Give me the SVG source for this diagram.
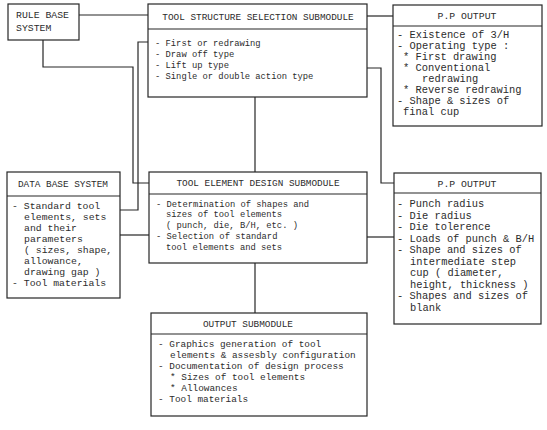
<svg xmlns="http://www.w3.org/2000/svg" width="547" height="430" viewBox="0 0 547 430">
  <style>
    .box { fill: #fff; stroke: #262626; stroke-width: 1.2; }
    .sep { stroke: #262626; stroke-width: 1.2; }
    .wire { fill: none; stroke: #262626; stroke-width: 1.2; }
    text { font-family: "Liberation Mono", "DejaVu Sans Mono", monospace; fill: #2c2c2c; }
    .hd { text-anchor: middle; }
    .s88 { font-size: 8.8px; }
    .s94 { font-size: 9.4px; }
    .s98 { font-size: 9.8px; }
    .s105 { font-size: 10.4px; }
  </style>
  <rect width="547" height="430" fill="#fff"/>

  <g id="connectors">
    <!-- rule base -> tool structure -->
    <polyline class="wire" points="79,15 148,15"/>
    <!-- rule base -> tool element design -->
    <polyline class="wire" points="43,40 43,67 133,67 133,183 149,183"/>
    <!-- tool structure <-> data base -->
    <polyline class="wire" points="148,42 138,42 138,210 120,210"/>
    <!-- data base -> tool element design -->
    <polyline class="wire" points="120,235 149,235"/>
    <!-- tool structure -> P.P output (top) -->
    <polyline class="wire" points="367,16 393,16"/>
    <!-- tool structure -> P.P output (lower) -->
    <polyline class="wire" points="367,68 381,68 381,183 394,183"/>
    <!-- tool structure -> tool element design -->
    <polyline class="wire" points="255,97 255,172"/>
    <!-- tool element design -> P.P output (lower) -->
    <polyline class="wire" points="367,237 394,237"/>
    <!-- tool element design -> output submodule -->
    <polyline class="wire" points="255,263 255,313"/>
  </g>

  <g id="rule-base">
    <rect class="box" x="8" y="4" width="71" height="36"/>
    <text class="s98" x="16" y="18">RULE BASE</text>
    <text class="s98" x="16" y="31">SYSTEM</text>
  </g>

  <g id="tool-structure">
    <rect class="box" x="148" y="4" width="219" height="93"/>
    <line class="sep" x1="148" y1="29" x2="367" y2="29"/>
    <text class="hd s94" x="258" y="20">TOOL STRUCTURE SELECTION SUBMODULE</text>
    <text class="s88" x="155" y="46">- First or redrawing</text>
    <text class="s88" x="155" y="57">- Draw off type</text>
    <text class="s88" x="155" y="68">- Lift up type</text>
    <text class="s88" x="155" y="79">- Single or double action type</text>
  </g>

  <g id="pp-output-1">
    <rect class="box" x="393" y="5" width="149" height="121"/>
    <line class="sep" x1="393" y1="26" x2="542" y2="26"/>
    <text class="hd s98" x="467" y="19">P.P OUTPUT</text>
    <text class="s105" x="397" y="38">- Existence of 3/H</text>
    <text class="s105" x="397" y="49">- Operating type :</text>
    <text class="s105" x="403" y="60">* First drawing</text>
    <text class="s105" x="403" y="71">* Conventional</text>
    <text class="s105" x="422" y="82">redrawing</text>
    <text class="s105" x="403" y="93">* Reverse redrawing</text>
    <text class="s105" x="397" y="104">- Shape &amp; sizes of</text>
    <text class="s105" x="403" y="115">final cup</text>
  </g>

  <g id="data-base">
    <rect class="box" x="7" y="172" width="113" height="126"/>
    <line class="sep" x1="7" y1="196" x2="120" y2="196"/>
    <text class="hd s94" x="63" y="187">DATA BASE SYSTEM</text>
    <text class="s98" x="12" y="209">- Standard tool</text>
    <text class="s98" x="24" y="220">elements, sets</text>
    <text class="s98" x="24" y="231">and their</text>
    <text class="s98" x="24" y="242">parameters</text>
    <text class="s98" x="24" y="253">( sizes, shape,</text>
    <text class="s98" x="24" y="264">allowance,</text>
    <text class="s98" x="24" y="275">drawing gap )</text>
    <text class="s98" x="12" y="286">- Tool materials</text>
  </g>

  <g id="tool-element">
    <rect class="box" x="149" y="172" width="218" height="91"/>
    <line class="sep" x1="149" y1="194" x2="367" y2="194"/>
    <text class="hd s94" x="258" y="186">TOOL ELEMENT DESIGN SUBMODULE</text>
    <text class="s88" x="156" y="207">- Determination of shapes and</text>
    <text class="s88" x="166" y="217">sizes of tool elements</text>
    <text class="s88" x="166" y="228">( punch, die, B/H, etc. )</text>
    <text class="s88" x="156" y="239">- Selection of standard</text>
    <text class="s88" x="166" y="250">tool  elements and sets</text>
  </g>

  <g id="pp-output-2">
    <rect class="box" x="394" y="173" width="147" height="151"/>
    <line class="sep" x1="394" y1="193" x2="541" y2="193"/>
    <text class="hd s98" x="467" y="187">P.P OUTPUT</text>
    <text class="s105" x="397" y="207">- Punch radius</text>
    <text class="s105" x="397" y="218.5">- Die radius</text>
    <text class="s105" x="397" y="230">- Die tolerence</text>
    <text class="s105" x="397" y="241.5">- Loads of punch &amp; B/H</text>
    <text class="s105" x="397" y="253">- Shape and sizes of</text>
    <text class="s105" x="410" y="264.5">intermediate step</text>
    <text class="s105" x="410" y="276">cup  ( diameter,</text>
    <text class="s105" x="410" y="287.5">height, thickness )</text>
    <text class="s105" x="397" y="299">- Shapes and sizes of</text>
    <text class="s105" x="410" y="310.5">blank</text>
  </g>

  <g id="output-submodule">
    <rect class="box" x="151" y="313" width="216" height="103"/>
    <line class="sep" x1="151" y1="334" x2="367" y2="334"/>
    <text class="hd s94" x="248" y="327">OUTPUT SUBMODULE</text>
    <text class="s94" x="158" y="347">- Graphics generation of tool</text>
    <text class="s94" x="170" y="358">elements &amp; assesbly configuration</text>
    <text class="s94" x="158" y="369">- Documentation of design process</text>
    <text class="s94" x="170" y="380">* Sizes of tool elements</text>
    <text class="s94" x="170" y="391">* Allowances</text>
    <text class="s94" x="158" y="402">- Tool materials</text>
  </g>
</svg>
